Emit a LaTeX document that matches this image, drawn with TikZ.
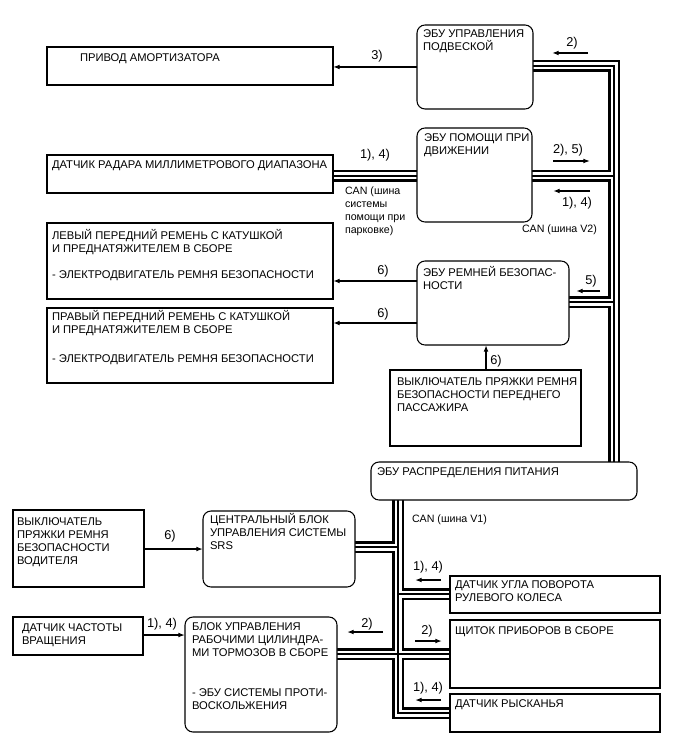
\documentclass[tikz,border=0pt]{standalone}
\usepackage{fontspec}
\setmainfont{Liberation Sans}
\usetikzlibrary{arrows.meta}
\pgfdeclarelayer{bg}
\pgfsetlayers{bg,main}
\newcommand\bxf{\fontsize{8.4pt}{9.75pt}\selectfont}
\newcommand\lbf{\fontsize{9.6pt}{11pt}\selectfont}
\newcommand\cnf{\fontsize{8pt}{9.75pt}\selectfont}
\newcommand\stA{\rule{0pt}{8pt}}
\newcommand\stB{\rule{0pt}{7.5pt}}
\newcommand\mkbox[6]{\node[#2, minimum width={(#5-#3)*0.75pt}, minimum height={(#6-#4)*0.75pt}] (#1) at ({(#3+#5)/2},{(#4+#6)/2}) {};}
\begin{document}
\begin{tikzpicture}[x=0.75pt, y=-0.75pt,
  box/.style={draw, line width=0.8pt, fill=white, inner sep=0pt, outer sep=0pt},
  rbox/.style={box, rounded corners=6pt},
  txt/.style={anchor=north west, inner sep=0pt, outer sep=0pt, align=left, font=\bxf},
  cantxt/.style={anchor=north west, inner sep=0pt, outer sep=0pt, align=left, font=\cnf},
  lbl/.style={anchor=base, inner sep=0pt, font=\lbf},
  arr/.style={line width=1.1pt, -{Latex[length=5pt, width=3.6pt]}},
  cable/.style={line width=9pt, line join=miter, draw=black,
     postaction={draw=white, line width=5.25pt, line join=miter},
     postaction={draw=black, line width=0.9pt, line join=miter}},
]
\useasboundingbox (0,0) rectangle (688,755);

% boxes
\mkbox{amort}{box}{47}{47}{333}{85}
\mkbox{susp}{rbox}{417}{25}{533}{109}
\mkbox{radar}{box}{47}{155}{333}{193}
\mkbox{assist}{rbox}{417}{128}{532}{222}
\mkbox{leftbelt}{box}{47}{223}{333}{299}
\mkbox{rightbelt}{box}{47}{308}{333}{383}
\mkbox{seatecu}{rbox}{417}{261}{569}{345}
\mkbox{pass}{box}{390}{370}{581}{446}
\mkbox{power}{rbox}{371}{462}{637}{500}
\mkbox{driver}{box}{13}{510}{144}{587}
\mkbox{srs}{rbox}{203}{511}{355}{587}
\mkbox{speed}{box}{13}{617}{143}{655}
\mkbox{brake}{rbox}{185}{617}{337}{732}
\mkbox{steer}{box}{450}{576}{660}{613}
\mkbox{instr}{box}{450}{620}{660}{688}
\mkbox{yaw}{box}{450}{694}{660}{732}

% bus corners
\coordinate (v2c) at (614,66);
\coordinate (v1c) at (398,713);

% cables
\begin{pgfonlayer}{bg}
\path[cable]
  (susp.east |- v2c) -- (v2c) -- (v2c |- power.north)
  (assist.east |- 0,176) -- (v2c |- 0,176)
  (radar.east |- 0,176) -- (assist.west |- 0,176)
  (seatecu.east |- 0,302) -- (v2c |- 0,302)
  (v1c |- power.south) -- (v1c) -- (yaw.west |- v1c)
  (srs.east |- 0,547) -- (v1c |- 0,547)
  (v1c |- 0,594) -- (steer.west |- 0,594)
  (brake.east |- 0,654) -- (instr.west |- 0,654);
\end{pgfonlayer}

% box texts
\node[txt] (tamort) at (80,51.3) {\stA ПРИВОД АМОРТИЗАТОРА};
\node[txt] (tsusp) at (423,27.3) {\stA ЭБУ УПРАВЛЕНИЯ\\ПОДВЕСКОЙ};
\node[txt] (tradar) at (52,158.3) {\stA ДАТЧИК РАДАРА МИЛЛИМЕТРОВОГО ДИАПАЗОНА};
\node[txt] (tassist) at (424,131.3) {\stA ЭБУ ПОМОЩИ ПРИ\\ДВИЖЕНИИ};
\node[txt] (tleft) at (52,229.3) {\stA ЛЕВЫЙ ПЕРЕДНИЙ РЕМЕНЬ С КАТУШКОЙ\\И ПРЕДНАТЯЖИТЕЛЕМ В СБОРЕ\\[9.4pt]- ЭЛЕКТРОДВИГАТЕЛЬ РЕМНЯ БЕЗОПАСНОСТИ};
\node[txt] (tright) at (52,310.3) {\stA ПРАВЫЙ ПЕРЕДНИЙ РЕМЕНЬ С КАТУШКОЙ\\И ПРЕДНАТЯЖИТЕЛЕМ В СБОРЕ\\[12pt]- ЭЛЕКТРОДВИГАТЕЛЬ РЕМНЯ БЕЗОПАСНОСТИ};
\node[txt] (tseat) at (423,266.3) {\stA ЭБУ РЕМНЕЙ БЕЗОПАС-\\НОСТИ};
\node[txt] (tpass) at (397,375.3) {\stA ВЫКЛЮЧАТЕЛЬ ПРЯЖКИ РЕМНЯ\\БЕЗОПАСНОСТИ ПЕРЕДНЕГО\\ПАССАЖИРА};
\node[txt] (tpower) at (377,465.3) {\stA ЭБУ РАСПРЕДЕЛЕНИЯ ПИТАНИЯ};
\node[txt] (tdriver) at (17,515.3) {\stA ВЫКЛЮЧАТЕЛЬ\\ПРЯЖКИ РЕМНЯ\\БЕЗОПАСНОСТИ\\ВОДИТЕЛЯ};
\node[txt] (tsrs) at (210,513.3) {\stA ЦЕНТРАЛЬНЫЙ БЛОК\\УПРАВЛЕНИЯ СИСТЕМЫ\\SRS};
\node[txt] (tspeed) at (22,621.3) {\stA ДАТЧИК ЧАСТОТЫ\\ВРАЩЕНИЯ};
\node[txt] (tbrake) at (192,620.3) {\stA БЛОК УПРАВЛЕНИЯ\\РАБОЧИМИ ЦИЛИНДРА-\\МИ ТОРМОЗОВ В СБОРЕ\\[20.25pt]- ЭБУ СИСТЕМЫ ПРОТИ-\\ВОСКОЛЬЖЕНИЯ};
\node[txt] (tsteer) at (455,578.3) {\stA ДАТЧИК УГЛА ПОВОРОТА\\РУЛЕВОГО КОЛЕСА};
\node[txt] (tinstr) at (455,624.3) {\stA ЩИТОК ПРИБОРОВ В СБОРЕ};
\node[txt] (tyaw) at (455,697.3) {\stA ДАТЧИК РЫСКАНЬЯ};

% CAN texts
\node[cantxt] (tcanp) at (345,184.8) {\stB CAN (шина\\системы\\помощи при\\парковке)};
\node[cantxt] (tcanv2) at (522,222.8) {\stB CAN (шина V2)};
\node[cantxt] (tcanv1) at (412,512.8) {\stB CAN (шина V1)};

% arrows between boxes
\draw[arr] (susp.west |- 0,67) -- (amort.east |- 0,67);
\draw[arr] (seatecu.west |- 0,281) -- (leftbelt.east |- 0,281);
\draw[arr] (seatecu.west |- 0,323) -- (rightbelt.east |- 0,323);
\draw[arr] (pass.north -| 486,0) -- (seatecu.south -| 486,0);
\draw[arr] (driver.east |- 0,549) -- (srs.west |- 0,549);
\draw[arr] (speed.east |- 0,635) -- (brake.west |- 0,635);

% small direction arrows
\draw[arr] (588,53) -- (552,53);
\draw[arr] (553,161) -- (590,161);
\draw[arr] (590,191) -- (553,191);
\draw[arr] (600,291) -- (576,291);
\draw[arr] (383,632) -- (347,632);
\draw[arr] (441,580) -- (415,580);
\draw[arr] (415,641) -- (442,641);
\draw[arr] (441,700) -- (415,700);

% labels
\node[lbl] (l1) at (377,59.6) {3)};
\node[lbl] (l2) at (572,46.6) {2)};
\node[lbl] (l3) at (375,158.6) {1), 4)};
\node[lbl] (l4) at (568,153.6) {2), 5)};
\node[lbl] (l5) at (577,206.6) {1), 4)};
\node[lbl] (l6) at (383,274.6) {6)};
\node[lbl] (l7) at (383,317.6) {6)};
\node[lbl] (l8) at (591,284.6) {5)};
\node[lbl] (l9) at (496,364.6) {6)};
\node[lbl] (l10) at (170,539.6) {6)};
\node[lbl] (l11) at (162,627.6) {1), 4)};
\node[lbl] (l12) at (367,627.6) {2)};
\node[lbl] (l13) at (428,570.6) {1), 4)};
\node[lbl] (l14) at (427,634.6) {2)};
\node[lbl] (l15) at (428,691.6) {1), 4)};
\end{tikzpicture}
\end{document}
